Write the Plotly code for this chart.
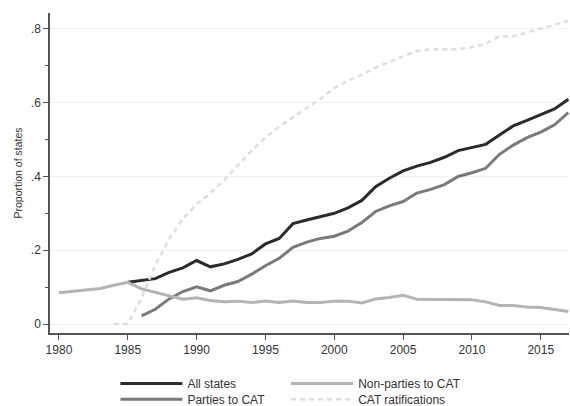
import plotly.graph_objects as go

# Years covered by each series
years_all = list(range(1985, 2018))
years_non = list(range(1980, 2018))
years_parties = list(range(1986, 2018))
years_rat = list(range(1984, 2018))

all_states = [0.113, 0.117, 0.123, 0.140, 0.152, 0.172, 0.155, 0.163, 0.175, 0.190,
              0.217, 0.232, 0.272, 0.282, 0.291, 0.300, 0.315, 0.335, 0.372, 0.395,
              0.415, 0.428, 0.438, 0.452, 0.470, 0.478, 0.487, 0.512, 0.537, 0.552,
              0.567, 0.583, 0.609]

non_parties = [0.085, 0.088, 0.092, 0.096, 0.105, 0.113, 0.095, 0.085, 0.075, 0.067,
               0.071, 0.064, 0.060, 0.062, 0.058, 0.062, 0.058, 0.062, 0.058, 0.058,
               0.062, 0.062, 0.057, 0.068, 0.072, 0.078, 0.067, 0.067, 0.066, 0.066,
               0.066, 0.060, 0.050, 0.050, 0.046, 0.045, 0.040, 0.034]

parties = [0.022, 0.040, 0.068, 0.088, 0.101, 0.090, 0.105, 0.115, 0.135, 0.158,
           0.178, 0.208, 0.222, 0.232, 0.238, 0.252, 0.275, 0.305, 0.320, 0.332,
           0.355, 0.365, 0.378, 0.400, 0.410, 0.422, 0.460, 0.485, 0.505, 0.520,
           0.540, 0.573]

ratifications = [0.0, 0.0, 0.07, 0.16, 0.23, 0.285, 0.325, 0.355, 0.39, 0.43,
                 0.47, 0.505, 0.535, 0.56, 0.585, 0.61, 0.64, 0.66, 0.675, 0.695,
                 0.71, 0.725, 0.74, 0.745, 0.745, 0.745, 0.75, 0.76, 0.78, 0.78,
                 0.79, 0.80, 0.81, 0.822]

x_ticks = [1980, 1985, 1990, 1995, 2000, 2005, 2010, 2015]
y_ticks = [0, 0.2, 0.4, 0.6, 0.8]
y_tick_labels = ["0", ".2", ".4", ".6", ".8"]

FONT = "Liberation Sans, Arial, sans-serif"

fig = go.Figure()
fig.add_trace(go.Scatter(x=years_all, y=all_states, mode="lines", name="All states",
                         legend="legend", line=dict(color="#2b2b2b", width=3)))
fig.add_trace(go.Scatter(x=years_parties, y=parties, mode="lines", name="Parties to CAT",
                         legend="legend2", line=dict(color="#7a7a7a", width=3)))
fig.add_trace(go.Scatter(x=years_non, y=non_parties, mode="lines", name="Non-parties to CAT",
                         legend="legend3", line=dict(color="#b4b4b4", width=3)))
fig.add_trace(go.Scatter(x=years_rat, y=ratifications, mode="lines", name="CAT ratifications",
                         legend="legend4", line=dict(color="#dedede", width=2.5, dash="5px,4px")))

# One single-entry legend per cell of the 2x2 key below the axes
legend_style = dict(orientation="v", yanchor="top", xanchor="left",
                    itemwidth=62, font=dict(size=12, color="#333"),
                    bgcolor="rgba(0,0,0,0)", borderwidth=0)
col1, col2 = 0.126, 0.455
row1, row2 = -0.1125, -0.1615

fig.update_layout(
    width=570, height=406,
    margin=dict(l=50, r=1, t=13, b=73, autoexpand=False),
    paper_bgcolor="white", plot_bgcolor="white",
    font=dict(family=FONT, size=12, color="#333"),
    showlegend=True,
    legend=dict(legend_style, x=col1, y=row1),
    legend2=dict(legend_style, x=col1, y=row2),
    legend3=dict(legend_style, x=col2, y=row1),
    legend4=dict(legend_style, x=col2, y=row2),
    xaxis=dict(range=[1979.35, 2017.05], tickvals=x_ticks, ticks="outside", ticklen=5,
               tickcolor="#555", showline=True, linecolor="#555", linewidth=1.5,
               showgrid=False, zeroline=False, tickfont=dict(size=12, color="#333")),
    yaxis=dict(range=[-0.0244, 0.843], tickvals=y_ticks, ticktext=y_tick_labels,
               ticks="outside", ticklen=5, tickcolor="#555", showline=True,
               linecolor="#555", linewidth=1.5, showgrid=True, gridcolor="#f0f0f0",
               gridwidth=1, zeroline=False, tickfont=dict(size=12, color="#333")),
)
fig.update_yaxes(
    title=dict(text="Proportion of states", font=dict(size=10.5, color="#333"), standoff=6),
    minor=dict(dtick=0.1, tick0=0, ticks="outside", ticklen=3, tickcolor="#555", showgrid=False),
)

fig.write_html("out.html")
